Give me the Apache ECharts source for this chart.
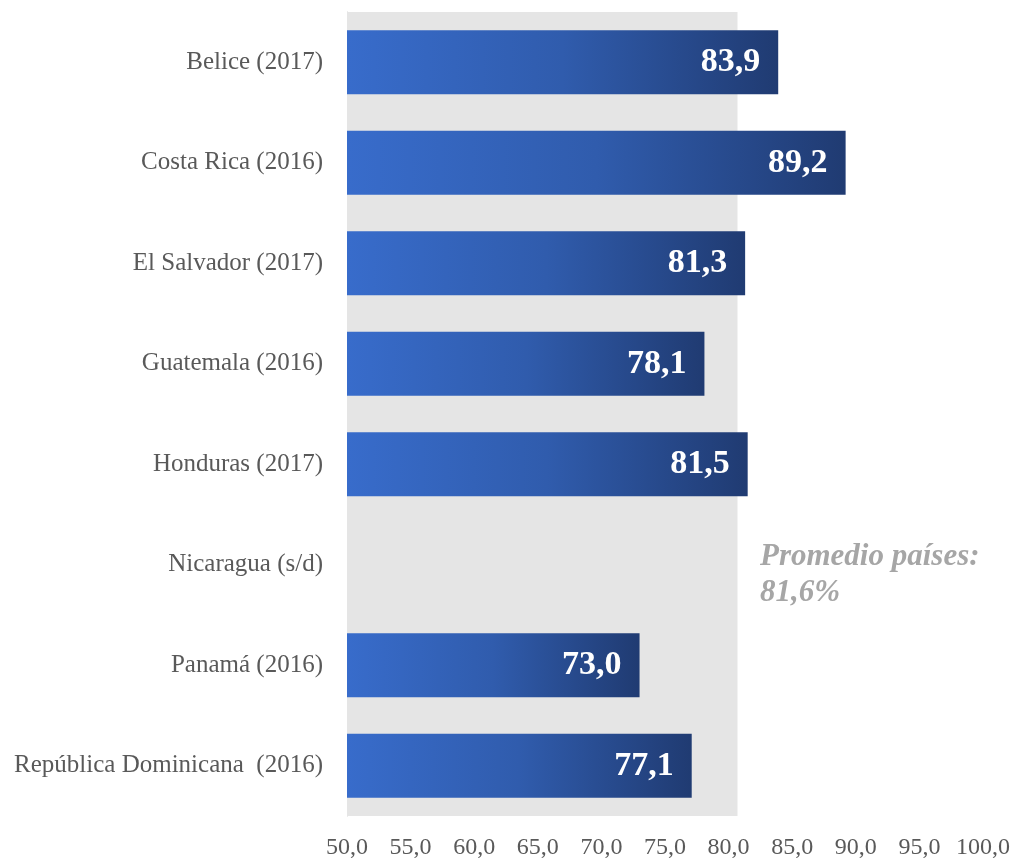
<!DOCTYPE html>
<html><head><meta charset="utf-8">
<script src="https://cdn.jsdelivr.net/npm/echarts@6/dist/echarts.min.js"></script>
<style>html,body{margin:0;padding:0;background:#fff}#c{width:1014px;height:860px}</style>
</head><body><div id="c"></div>
<script>
const categories = ["Belice (2017)","Costa Rica (2016)","El Salvador (2017)","Guatemala (2016)","Honduras (2017)","Nicaragua (s/d)","Panamá (2016)","República Dominicana  (2016)"];
const values = [83.9, 89.2, 81.3, 78.1, 81.5, null, 73.0, 77.1];
const bandEnd = 80.7;
const axisMin = 50, axisMax = 100, axisInterval = 5;
const noteText = ["Promedio países:", "81,6%"];

const fmt = v => v.toFixed(1).replace('.', ',');
const chart = echarts.init(document.getElementById('c'));
chart.setOption({
  animation:false,
  grid:{left:347,right:31,top:12,bottom:42,containLabel:false},
  xAxis:{type:'value',min:axisMin,max:axisMax,interval:axisInterval,
    axisLine:{show:false},axisTick:{show:false},splitLine:{show:false},
    axisLabel:{formatter:v=>fmt(v),color:'#595959',fontFamily:'Liberation Serif',fontSize:24,margin:20}},
  yAxis:{type:'category',data:categories,inverse:true,
    axisLine:{show:true,lineStyle:{color:'#d0d0d0',width:1}},axisTick:{show:false},
    axisLabel:{color:'#595959',fontFamily:'Liberation Serif',fontSize:25,margin:24,padding:[4,0,0,0]}},
  series:[{type:'bar',data:values,barWidth:'63.5%',
    itemStyle:{color:new echarts.graphic.LinearGradient(0,0,1,0,[{offset:0,color:'#386ccb'},{offset:0.5,color:'#305cad'},{offset:1,color:'#203b72'}])},
    label:{show:true,position:'insideRight',distance:18,padding:[5,0,0,0],formatter:p=>fmt(p.value),color:'#fff',fontFamily:'Liberation Serif',fontWeight:'bold',fontSize:34},
    markArea:{silent:true,itemStyle:{color:'#e5e5e5'},data:[[{xAxis:axisMin},{xAxis:bandEnd}]]},
    z:3}],
  graphic:[{type:'text',left:760,top:539,style:{text:noteText.join('\n'),fill:'#a6a6a6',font:'italic bold 31px "Liberation Serif"',lineHeight:36}}]
});
</script></body></html>
